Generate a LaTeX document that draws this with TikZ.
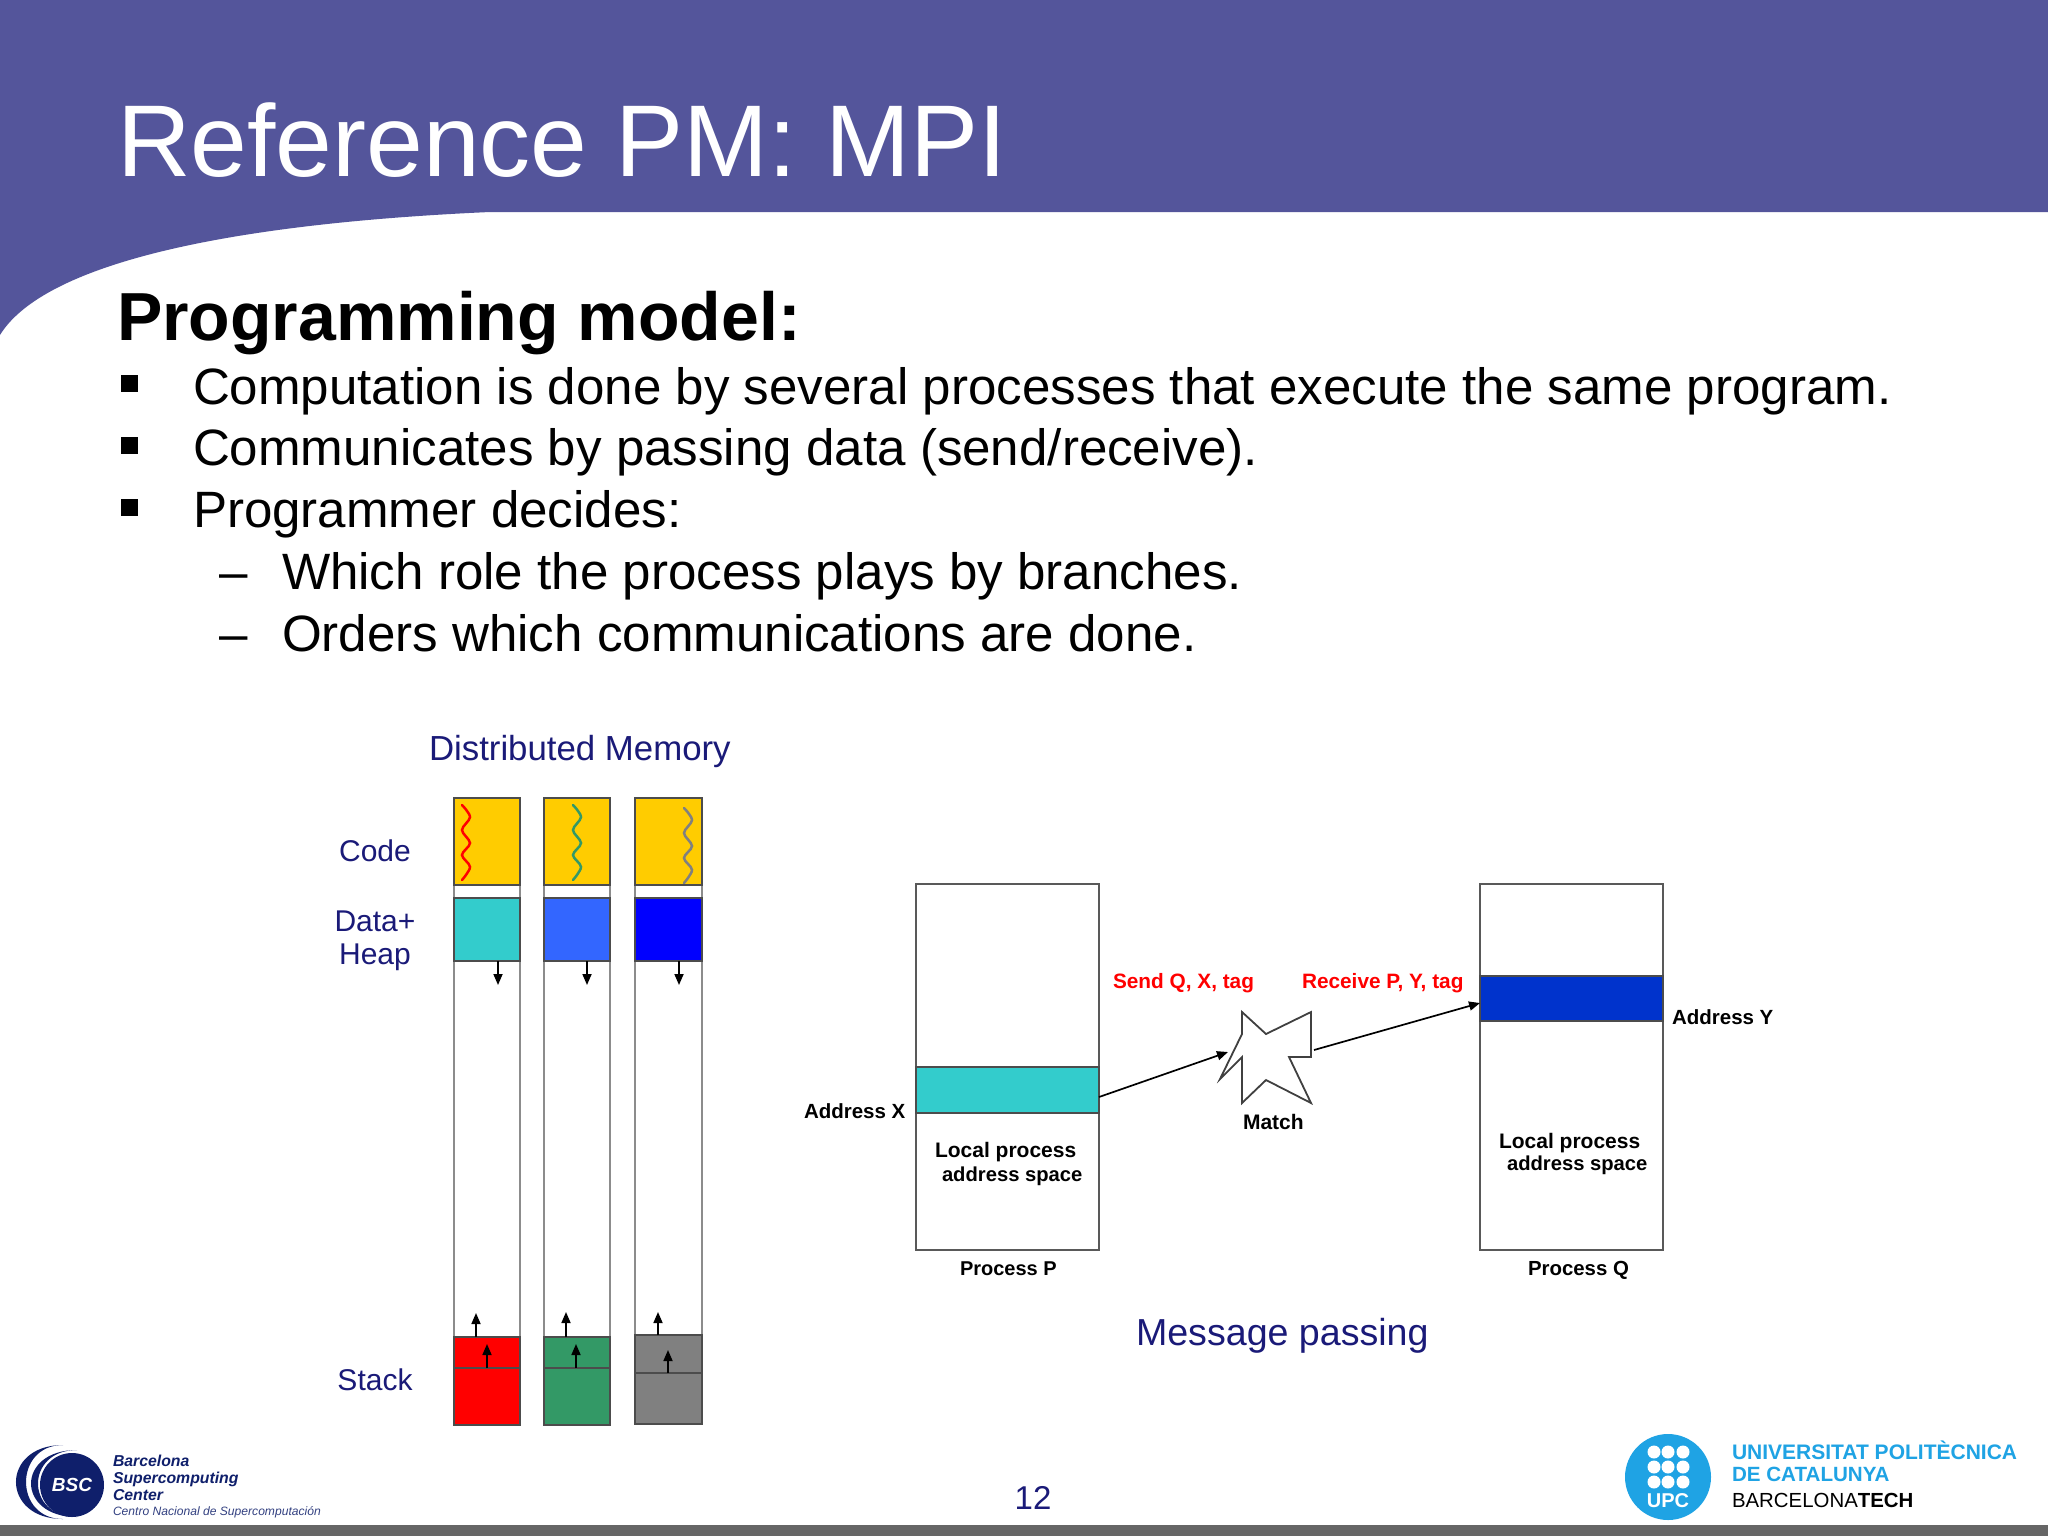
\documentclass[tikz,border=0pt]{standalone}
\usepackage{fontspec}
\setmainfont{Liberation Sans}
\usetikzlibrary{arrows.meta,fit}
\definecolor{headblue}{HTML}{54559B}
\definecolor{navytext}{HTML}{1A1A78}
\definecolor{logonavy}{HTML}{0F1F6B}
\definecolor{upcblue}{HTML}{1FA3E4}
\definecolor{codeyellow}{HTML}{FFCC00}
\definecolor{dataTeal}{HTML}{33CCCC}
\definecolor{dataBlue}{HTML}{3366FF}
\definecolor{stackGreen}{HTML}{339966}
\definecolor{bandblue}{HTML}{0033CC}
\newcommand{\fsz}[1]{\fontsize{#1}{#1}\selectfont}
\tikzset{
  x=0.5pt,y=-0.5pt,
  txt/.style={inner sep=0pt,outer sep=0pt,anchor=base west},
  txtc/.style={inner sep=0pt,outer sep=0pt,anchor=base},
  body/.style={txt,font=\fsz{25.55}},
  bulletbox/.style={fill=black,inner sep=0pt,minimum size=8.5pt},
  clabel/.style={txtc,font=\fsz{15}\color{navytext}},
  small/.style={txt,font=\fsz{10.25}\bfseries},
  redlabel/.style={txt,font=\fsz{10.4}\bfseries\color{red}},
  column/.style={inner sep=0pt,outer sep=0pt,draw=gray!90,line width=1.2pt,fill=white},
  block/.style={inner sep=0pt,outer sep=0pt,draw=black!70,line width=0.9pt},
  procbox/.style={inner sep=0pt,outer sep=0pt,draw=black!65,line width=0.9pt,fill=white},
  arr/.style={-{Triangle[length=5.5pt,width=4.5pt]},line width=0.85pt,black},
  squig/.style={line width=1.25pt,line cap=round},
}
\begin{document}
\begin{tikzpicture}
\useasboundingbox (0,0) rectangle (2048,1536);
\fill[white] (0,0) rectangle (2048,1536);
% header
\fill[headblue] (0,0) -- (2048,0) -- (2048,212) -- (490,212)
  .. controls (200,225) and (40,270) .. (0,335) -- cycle;
\fill[black!60] (0,1525) rectangle (2048,1536);
\node[txt,font=\fsz{51},text=white] (title) at (117,176) {Reference PM: MPI};
\node[txt,font=\fsz{34}\bfseries] (heading) at (117,340) {Programming model:};
\node[bulletbox] (b1) at (129,383) {};
\node[bulletbox] (b2) at (129,445) {};
\node[bulletbox] (b3) at (129,507) {};
\node[body] (t1) at (193,404) {Computation is done by several processes that execute the same program.};
\node[body] (t2) at (193,465) {Communicates by passing data (send/receive).};
\node[body] (t3) at (193,527) {Programmer decides:};
\node[body] (d1) at (219,589) {–};
\node[body] (d2) at (219,651) {–};
\node[body] (t4) at (282,589) {Which role the process plays by branches.};
\node[body] (t5) at (282,651) {Orders which communications are done.};
% distributed memory
\node[txt,font=\fsz{17.4}\color{navytext}] (dm) at (429,760) {Distributed Memory};
\node[clabel] (lcode) at (375,861) {Code};
\node[clabel] (ldata) at (375,931) {Data+};
\node[clabel] (lheap) at (375,964) {Heap};
\node[clabel] (lstack) at (375,1390) {Stack};
\node[column,fit={(454,798)(520,1425)}] (col1) {};
\node[column,fit={(544,798)(610,1425)}] (col2) {};
\node[column,fit={(635,798)(702,1424)}] (col3) {};
\node[block,fill=codeyellow,fit={(454,798)(520,885)}] (code1) {};
\node[block,fill=codeyellow,fit={(544,798)(610,885)}] (code2) {};
\node[block,fill=codeyellow,fit={(635,798)(702,885)}] (code3) {};
\node[block,fill=dataTeal,fit={(454,898)(520,961)}] (data1) {};
\node[block,fill=dataBlue,fit={(544,898)(610,961)}] (data2) {};
\node[block,fill=blue,fit={(635,898)(702,961)}] (data3) {};
\node[block,fill=red,fit={(454,1337)(520,1368)}] (sa1) {};
\node[block,fill=red,fit={(454,1368)(520,1425)}] (sb1) {};
\node[block,fill=stackGreen,fit={(544,1337)(610,1368)}] (sa2) {};
\node[block,fill=stackGreen,fit={(544,1368)(610,1425)}] (sb2) {};
\node[block,fill=gray,fit={(635,1335)(702,1373)}] (sa3) {};
\node[block,fill=gray,fit={(635,1373)(702,1424)}] (sb3) {};
% threads
\foreach \cx/\cy/\c in {462/805/red,573/805/stackGreen,684/808/gray}
  \draw[squig,\c,shift={(\cx,\cy)}] plot[smooth,tension=0.55] coordinates
    {(0,0) (8,12) (0,25) (8,38) (0,50) (8,62) (0,75)};
% arrows
\coordinate (h1) at (498,985); \coordinate (h2) at (587,985); \coordinate (h3) at (679,985);
\draw[arr] (h1 |- data1.south) -- (h1);
\draw[arr] (h2 |- data2.south) -- (h2);
\draw[arr] (h3 |- data3.south) -- (h3);
\coordinate (u1) at (476,1313); \coordinate (u2) at (566,1312); \coordinate (u3) at (658,1312);
\draw[arr] (u1 |- sa1.north) -- (u1);
\draw[arr] (u2 |- sa2.north) -- (u2);
\draw[arr] (u3 |- sa3.north) -- (u3);
\coordinate (i1) at (487,1344); \coordinate (i2) at (576,1344); \coordinate (i3) at (668,1350);
\draw[arr] (i1 |- sb1.north) -- (i1);
\draw[arr] (i2 |- sb2.north) -- (i2);
\draw[arr] (i3 |- sb3.north) -- (i3);
% message passing
\node[procbox,fit={(916,884)(1099,1250)}] (procP) {};
\node[procbox,fit={(1480,884)(1663,1250)}] (procQ) {};
\node[block,fill=dataTeal,fit={(916,1067)(1099,1113)}] (bandX) {};
\node[block,fill=bandblue,fit={(1480,976)(1663,1021)}] (bandY) {};
\node[small] (ax) at (804,1118) {Address X};
\node[small] (ay) at (1672,1024) {Address Y};
\node[small,font=\fsz{10.5}\bfseries] (lp1) at (935,1157) {Local process};
\node[small,font=\fsz{10.1}\bfseries] (as1) at (942,1181) {address space};
\node[small,font=\fsz{10.5}\bfseries] (lp2) at (1499,1148) {Local process};
\node[small,font=\fsz{10.1}\bfseries] (as2) at (1507,1170) {address space};
\node[small,font=\fsz{10}\bfseries] (pp) at (960,1275) {Process P};
\node[small,font=\fsz{10.2}\bfseries] (pq) at (1528,1275) {Process Q};
\node[small,font=\fsz{10.5}\bfseries] (mt) at (1243,1129) {Match};
\node[redlabel] (send) at (1113,988) {Send Q, X, tag};
\node[redlabel] (recv) at (1302,988) {Receive P, Y, tag};
\draw[black!75,line width=0.9pt,fill=white,line join=miter]
  (1242,1012) -- (1266,1034) -- (1311,1012) -- (1311,1057) -- (1289,1057)
  -- (1311,1103) -- (1266,1080) -- (1242,1103) -- (1242,1057) -- (1220,1079) -- (1242,1034) -- cycle;
\coordinate (sendfrom) at (1099,1097);
\coordinate (sendto) at (1228,1052);
\coordinate (recvfrom) at (1314,1050);
\coordinate (recvto) at (1480,1003);
\draw[arr] (sendfrom) -- (sendto);
\draw[arr] (recvfrom) -- (recvto);
\node[txt,font=\fsz{18.8}\color{navytext}] (mp) at (1136,1345) {Message passing};
% page number
\node[txtc,font=\fsz{16.5}\color{navytext}] (pn) at (1033,1509) {12};
% BSC logo
\fill[logonavy] (63,1445) .. controls (0.3,1445) and (0.3,1519) .. (63,1519)
  .. controls (13.7,1519) and (13.7,1445) .. (63,1445) -- cycle;
\fill[logonavy] (77,1450) .. controls (15.7,1450) and (15.7,1517) .. (77,1517)
  .. controls (25,1517) and (25,1450) .. (77,1450) -- cycle;
\node[circle,fill=logonavy,minimum size=32pt,inner sep=0pt,text=white,font=\fsz{9.5}\bfseries\itshape] (bsc) at (72,1485) {BSC};
\node[txt,font=\fsz{7.9}\bfseries\itshape\color{logonavy}] (b1t) at (113,1466) {Barcelona};
\node[txt,font=\fsz{7.9}\bfseries\itshape\color{logonavy}] (b2t) at (113,1483) {Supercomputing};
\node[txt,font=\fsz{7.9}\bfseries\itshape\color{logonavy}] (b3t) at (113,1500) {Center};
\node[txt,font=\fsz{6.05}\itshape\color{logonavy!85}] (b4t) at (113,1515) {Centro Nacional de Supercomputación};
% UPC logo
\node[circle,fill=upcblue,minimum size=43pt,inner sep=0pt] (upc) at (1668,1477) {};
\foreach \px in {1654,1668,1683}
  \foreach \py in {1452,1467,1482}
    \fill[white] (\px,\py) circle[radius=6.5];
\node[txtc,font=\fsz{10}\bfseries,text=white] (upct) at (1668,1507) {UPC};
\node[txt,font=\fsz{10.5}\bfseries\color{upcblue}] (u1t) at (1732,1459) {UNIVERSITAT POLITÈCNICA};
\node[txt,font=\fsz{10.3}\bfseries\color{upcblue}] (u2t) at (1732,1481) {DE CATALUNYA};
\node[txt,font=\fsz{10.2}] (u3t) at (1732,1507) {BARCELONA\textbf{TECH}};
\end{tikzpicture}
\end{document}
